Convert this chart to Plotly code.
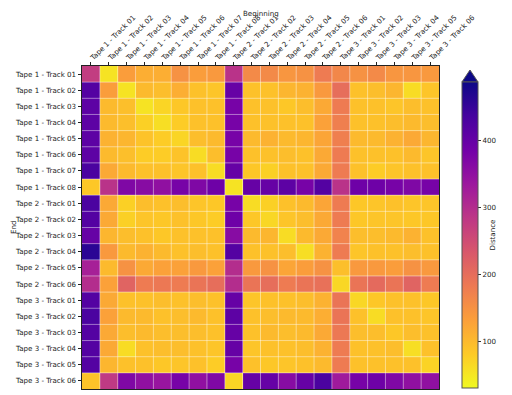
import plotly.graph_objects as go

tracks = (["Tape 1 - Track %02d" % i for i in range(1, 9)]
          + ["Tape 2 - Track %02d" % i for i in range(1, 7)]
          + ["Tape 3 - Track %02d" % i for i in range(1, 7)])

# rows = End track, columns = Beginning track
tape1_rows = [
    [275, 55, 135, 115, 115, 150, 135, 140, 290, 160, 160, 145, 150, 180, 165, 150, 160, 145, 145, 140],
    [420, 135, 55, 100, 96, 115, 92, 88, 400, 92, 92, 105, 110, 140, 200, 92, 96, 105, 62, 88],
    [410, 100, 95, 55, 70, 85, 92, 92, 380, 92, 92, 85, 96, 120, 180, 92, 92, 88, 96, 92],
    [410, 100, 95, 75, 60, 80, 92, 92, 380, 92, 92, 92, 92, 130, 175, 92, 92, 96, 100, 96],
    [410, 110, 105, 90, 80, 70, 96, 100, 380, 100, 110, 100, 105, 125, 175, 100, 100, 110, 120, 105],
    [410, 100, 95, 80, 80, 90, 62, 96, 380, 92, 92, 96, 92, 120, 180, 92, 92, 92, 100, 88],
    [430, 120, 100, 92, 92, 88, 92, 62, 400, 85, 75, 92, 92, 120, 180, 92, 80, 88, 92, 92],
    [85, 290, 370, 360, 350, 380, 370, 390, 55, 400, 400, 410, 380, 420, 290, 390, 390, 380, 370, 380],
]
tape2_rows = [
    [430, 120, 75, 96, 92, 96, 88, 85, 380, 62, 75, 92, 100, 125, 180, 85, 88, 92, 88, 88],
    [420, 120, 75, 88, 85, 92, 85, 80, 390, 85, 68, 88, 96, 120, 180, 85, 88, 88, 85, 85],
    [400, 105, 96, 92, 85, 92, 92, 92, 360, 100, 105, 62, 100, 120, 170, 96, 96, 100, 110, 92],
    [460, 140, 100, 110, 100, 92, 96, 92, 420, 92, 92, 96, 60, 110, 180, 88, 92, 92, 96, 92],
    [320, 100, 150, 120, 130, 130, 140, 130, 300, 140, 150, 125, 135, 150, 95, 140, 140, 135, 150, 140],
    [300, 130, 215, 180, 185, 180, 190, 200, 300, 190, 200, 180, 190, 195, 68, 190, 205, 190, 215, 180],
]
tape3_rows = [
    [420, 120, 92, 92, 96, 92, 96, 92, 400, 88, 92, 92, 96, 110, 190, 68, 85, 92, 92, 85],
    [430, 130, 100, 100, 92, 96, 100, 92, 410, 92, 96, 100, 100, 115, 190, 92, 62, 92, 92, 88],
    [420, 120, 96, 100, 96, 96, 96, 92, 400, 92, 100, 96, 100, 120, 185, 96, 96, 85, 96, 92],
    [420, 120, 62, 92, 96, 96, 92, 88, 400, 88, 92, 92, 96, 110, 180, 92, 92, 96, 60, 92],
    [420, 105, 92, 92, 85, 88, 92, 80, 380, 92, 85, 88, 92, 100, 180, 92, 92, 92, 92, 72],
    [90, 280, 370, 350, 340, 380, 350, 370, 70, 400, 400, 360, 400, 430, 330, 380, 390, 370, 350, 350],
]

colorbar_ticks = [100, 200, 300, 400]
z_min, z_max = 31, 487

z = tape1_rows + tape2_rows + tape3_rows
n = len(tracks)

FS = 7.1
font = dict(family="DejaVu Sans", size=FS, color="#222")

fig = go.Figure(go.Heatmap(
    z=z, x=tracks, y=tracks,
    colorscale="Plasma_r", zmin=z_min, zmax=z_max,
    colorbar=dict(
        title=dict(text="Distance", side="right", font=font),
        x=1.064, xanchor="left", xref="paper", xpad=0, ypad=0,
        y=0.003, yanchor="bottom",
        lenmode="pixels", len=306,
        thickness=16, outlinewidth=1, outlinecolor="#555",
        tickvals=colorbar_ticks, ticks="outside", ticklen=3, tickcolor="#333",
        tickfont=font,
    ),
))

# light cell separators
shapes = []
for i in range(1, n):
    shapes.append(dict(type="line", xref="x", yref="paper", x0=i - 0.5, x1=i - 0.5, y0=0, y1=1,
                       line=dict(color="rgba(255,255,255,0.45)", width=1), layer="above"))
    shapes.append(dict(type="line", xref="paper", yref="y", y0=i - 0.5, y1=i - 0.5, x0=0, x1=1,
                       line=dict(color="rgba(255,255,255,0.45)", width=1), layer="above"))
# colorbar extend arrow
shapes.append(dict(type="path", xref="paper", yref="paper",
                   path="M 1.0644 0.9505 L 1.1092 0.9505 L 1.0868 0.9876 Z",
                   fillcolor="#0d0887", line=dict(color="#555", width=1), layer="above"))

# page body has an 8px margin, so the figure is sized/offset to land on the same page pixels
fig.update_layout(
    width=504, height=387,
    margin=dict(l=74, r=73, t=58, b=6, autoexpand=False),
    paper_bgcolor="white", plot_bgcolor="white",
    font=font,
    shapes=shapes,
    xaxis=dict(side="top", tickangle=-45, ticks="outside", ticklen=3.5, tickcolor="#222",
               showgrid=False, showline=True, mirror=True, linecolor="#222", linewidth=1,
               tickfont=font, automargin=False, ticklabelstandoff=-3),
    yaxis=dict(autorange="reversed", ticks="outside", ticklen=3.5, tickcolor="#222",
               showgrid=False, showline=True, mirror=True, linecolor="#222", linewidth=1,
               tickfont=font, automargin=False),
    annotations=[
        dict(text="Beginning", xref="paper", yref="paper", x=0.5, y=1.1796,
             xanchor="center", yanchor="top", showarrow=False, font=font, borderpad=0),
        dict(text="End", xref="paper", yref="paper", x=-0.2073, y=0.5, textangle=-90,
             xanchor="left", yanchor="middle", showarrow=False, font=font, borderpad=0),
    ],
)

fig.write_html("out.html")
